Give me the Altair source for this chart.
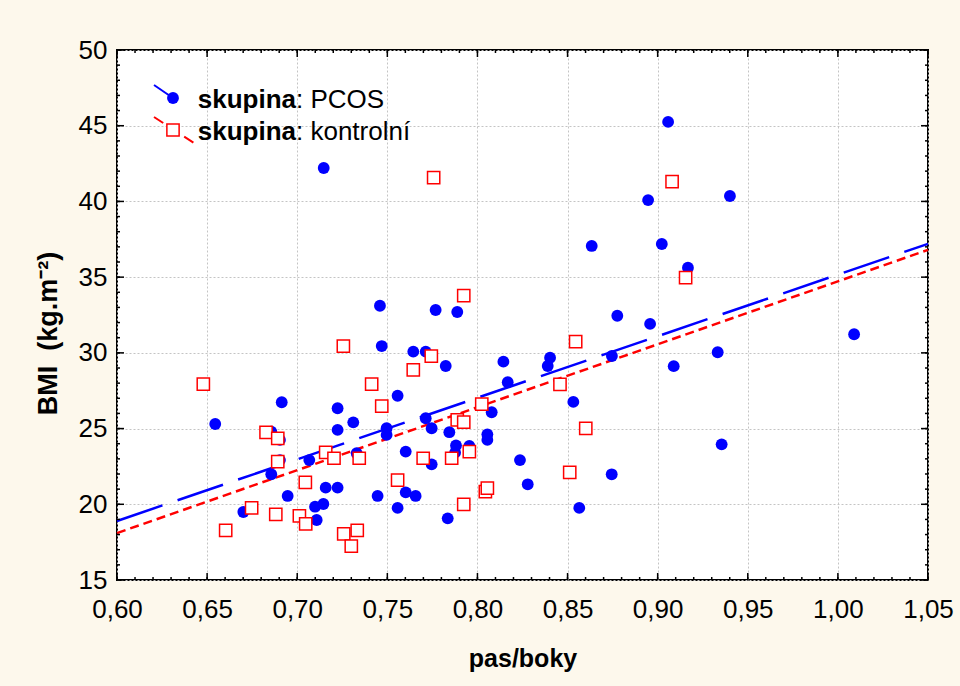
import altair as alt
import pandas as pd
import numpy as np

# ---- data ----
pcos_x = [0.6545, 0.6701, 0.6856, 0.6914, 0.6904, 0.6904, 0.6856, 0.6947, 0.7067, 0.7108,
          0.7099, 0.7145, 0.7158, 0.7224, 0.7224, 0.7224, 0.7311, 0.7330, 0.7147, 0.7459,
          0.7469, 0.7496, 0.7496, 0.7446, 0.7557, 0.7602, 0.7602, 0.7657, 0.7557, 0.7644,
          0.7713, 0.7768, 0.7888, 0.7824, 0.7713, 0.7746, 0.7746, 0.7844, 0.7835, 0.7881,
          0.7876, 0.7955, 0.8055, 0.8055, 0.8079, 0.8144, 0.8168, 0.8236, 0.8279, 0.8403,
          0.8390, 0.8532, 0.8565, 0.8634, 0.8746, 0.8776, 0.8745, 0.8958, 0.8947, 0.9058,
          0.9023, 0.9168, 0.9089, 0.9333, 0.9355, 0.9401, 1.0090]
pcos_y = [25.30, 19.49, 21.98, 26.74, 24.25, 22.92, 24.80, 20.55, 22.92, 18.96,
          19.84, 20.02, 21.10, 21.10, 24.91, 26.34, 25.41, 23.37, 42.21, 33.11,
          30.45, 25.02, 24.58, 20.55, 27.17, 23.48, 20.79, 20.55, 19.76, 30.08,
          30.08, 32.83, 32.70, 29.13, 25.68, 25.02, 22.64, 24.76, 19.07, 23.88,
          23.41, 23.85, 24.62, 24.25, 26.08, 29.42, 28.06, 22.92, 21.32, 29.68,
          29.13, 26.76, 19.76, 37.06, 29.79, 32.45, 21.98, 31.91, 40.09, 45.25,
          37.19, 35.62, 29.12, 30.04, 23.96, 40.36, 31.23]

kontrol_x = [0.6479, 0.6603, 0.6747, 0.6827, 0.6892, 0.6892, 0.6881, 0.7012, 0.7047, 0.7045,
             0.7158, 0.7204, 0.7256, 0.7258, 0.7333, 0.7300, 0.7344, 0.7413, 0.7469, 0.7644,
             0.7744, 0.7757, 0.7557, 0.7699, 0.7857, 0.7888, 0.7924, 0.7955, 0.7924, 0.7924,
             0.8024, 0.8044, 0.8055, 0.8458, 0.8545, 0.8512, 0.8601, 0.9080, 0.9155]
kontrol_y = [27.94, 18.28, 19.76, 24.75, 24.36, 22.81, 19.34, 19.23, 18.70, 21.45,
             23.43, 23.04, 30.45, 18.04, 18.28, 17.23, 23.04, 27.94, 26.49, 28.87,
             29.79, 41.57, 21.60, 23.04, 23.04, 25.57, 25.42, 23.48, 20.00, 33.78,
             26.62, 20.83, 21.06, 27.92, 30.74, 22.11, 25.02, 41.31, 34.96]

fit_x = [0.60, 1.05]
fit_pcos = [18.9, 37.2]
fit_kontrol = [18.1, 36.8]

x_ticks = [0.60, 0.65, 0.70, 0.75, 0.80, 0.85, 0.90, 0.95, 1.00, 1.05]
y_ticks = [15, 20, 25, 30, 35, 40, 45, 50]
x_minor = [round(v, 2) for v in np.arange(0.60, 1.0501, 0.01)]
y_minor = list(range(15, 51))

# ---- layout ----
W, H = 811, 530
FONT = "Liberation Sans"
BLUE = "#0000FF"
RED = "#FF0000"

pcos_df = pd.DataFrame({"x": pcos_x, "y": pcos_y})
kon_df = pd.DataFrame({"x": kontrol_x, "y": kontrol_y})
fit_df = pd.DataFrame({"x": fit_x, "pcos": fit_pcos, "kon": fit_kontrol})
xmaj_df = pd.DataFrame({"v": x_ticks})
ymaj_df = pd.DataFrame({"v": y_ticks})
xmin_df = pd.DataFrame({"v": x_minor})
ymin_df = pd.DataFrame({"v": y_minor})
one = pd.DataFrame({"k": [0]})

xscale = alt.Scale(domain=[0.60, 1.05], nice=False, zero=False)
yscale = alt.Scale(domain=[15, 50], nice=False, zero=False)

xaxis = alt.Axis(values=x_ticks, title="pas/boky",
                 labelExpr="replace(format(datum.value, '.2f'), '.', ',')",
                 ticks=False, domain=False, grid=True, gridDash=[2, 2],
                 gridColor="#C4C4C4", gridWidth=1,
                 labelFont=FONT, labelFontSize=26, labelColor="black",
                 labelPadding=16, labelFlush=False, labelOverlap=False,
                 titleFont=FONT, titleFontSize=25, titleFontWeight="bold",
                 titleColor="black", titlePadding=24)
yaxis = alt.Axis(values=y_ticks, title="BMI\u00A0\u00A0(kg.m\u207B\u00B2)",
                 ticks=False, domain=False, grid=True, gridDash=[2, 2],
                 gridColor="#C4C4C4", gridWidth=1,
                 labelFont=FONT, labelFontSize=26, labelColor="black",
                 labelPadding=10, labelFlush=False, labelOverlap=False,
                 titleFont=FONT, titleFontSize=27, titleFontWeight="bold",
                 titleColor="black", titlePadding=16, titleY=283)

X = alt.X("x:Q", scale=xscale, axis=xaxis)
Y = alt.Y("y:Q", scale=yscale, axis=yaxis)

line_pcos = alt.Chart(fit_df).mark_line(color=BLUE, strokeWidth=2.5, strokeDash=[48, 16]).encode(
    x=X, y=alt.Y("pcos:Q", scale=yscale, axis=yaxis))
line_kon = alt.Chart(fit_df).mark_line(color=RED, strokeWidth=2.5, strokeDash=[9, 5]).encode(
    x=X, y=alt.Y("kon:Q", scale=yscale, axis=yaxis))

pts_pcos = alt.Chart(pcos_df).mark_circle(color=BLUE, size=140, opacity=1).encode(x=X, y=Y)
pts_kon = alt.Chart(kon_df).mark_square(fill="white", fillOpacity=1, stroke=RED,
                                        strokeWidth=1.5, size=150, opacity=1).encode(x=X, y=Y)

# inward ticks on all four sides
tick_style = dict(color="black", strokeWidth=1.5)
def xt(df, length):
    xs = alt.X("v:Q", scale=xscale, axis=xaxis)
    bottom = alt.Chart(df).mark_rule(**tick_style).encode(
        x=xs, y=alt.value(H), y2=alt.value(H - length))
    top = alt.Chart(df).mark_rule(**tick_style).encode(
        x=xs, y=alt.value(0), y2=alt.value(length))
    return [bottom, top]

def yt(df, length):
    ys = alt.Y("v:Q", scale=yscale, axis=yaxis)
    left = alt.Chart(df).mark_rule(**tick_style).encode(
        y=ys, x=alt.value(0), x2=alt.value(length))
    right = alt.Chart(df).mark_rule(**tick_style).encode(
        y=ys, x=alt.value(W), x2=alt.value(W - length))
    return [left, right]

ticks = xt(xmaj_df, 7) + xt(xmin_df, 3) + yt(ymaj_df, 7) + yt(ymin_df, 3)

# legend (top-left, inside plot)
leg_line1 = alt.Chart(one).mark_rule(color=BLUE, strokeWidth=2).encode(
    x=alt.value(37), y=alt.value(35), x2=alt.value(56), y2=alt.value(48))
leg_pt1 = alt.Chart(one).mark_circle(color=BLUE, size=140, opacity=1).encode(
    x=alt.value(56), y=alt.value(48))
leg_line2 = alt.Chart(one).mark_rule(color=RED, strokeWidth=2, strokeDash=[11, 7]).encode(
    x=alt.value(37), y=alt.value(67), x2=alt.value(77), y2=alt.value(93))
leg_pt2 = alt.Chart(one).mark_square(fill="white", fillOpacity=1, stroke=RED,
                                     strokeWidth=1.5, size=150, opacity=1).encode(
    x=alt.value(56), y=alt.value(80))

def leg_text(txt, x, y, bold, align):
    return alt.Chart(one).mark_text(text=txt, font=FONT, fontSize=26,
                                    fontWeight="bold" if bold else "normal",
                                    align=align, baseline="alphabetic", color="black").encode(
        x=alt.value(x), y=alt.value(y))

legend = [leg_line1, leg_pt1, leg_line2, leg_pt2,
          leg_text("skupina", 179, 58, True, "right"),
          leg_text(": PCOS", 179, 58, False, "left"),
          leg_text("skupina", 179, 90, True, "right"),
          leg_text(": kontrolní", 179, 90, False, "left")]

chart = alt.layer(line_pcos, line_kon, pts_pcos, pts_kon, *ticks, *legend).properties(
    width=W, height=H, background="#FDF8EC",
    padding={"left": 117, "top": 50, "right": 32, "bottom": 106},
    autosize=alt.AutoSizeParams(type="none"),
).configure_view(fill="white", stroke="black", strokeWidth=2)

chart.save("out.html", embed_options={"renderer": "svg", "actions": False})
